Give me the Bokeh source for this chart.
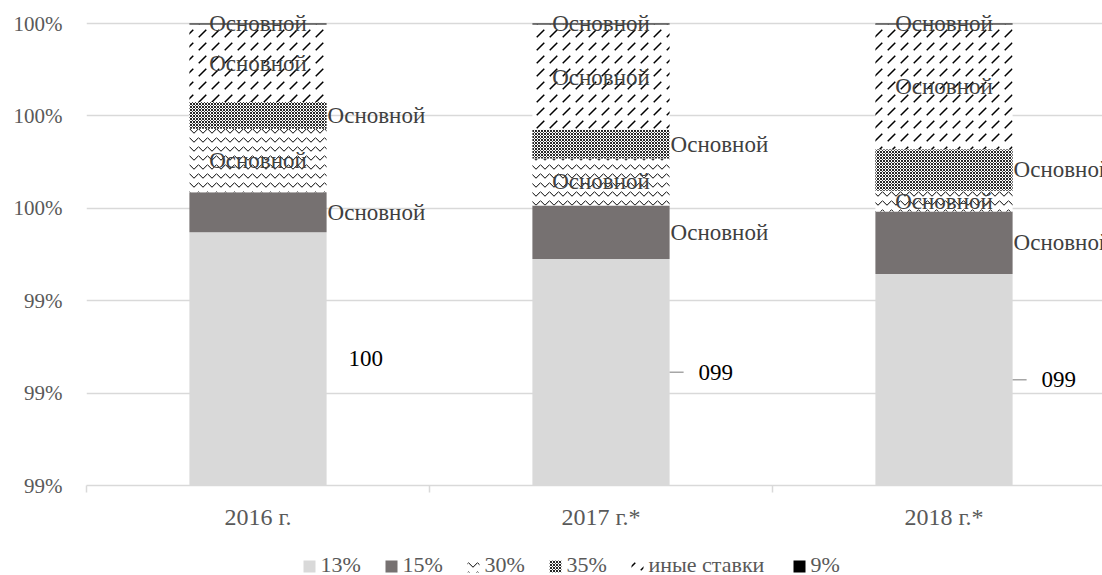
import numpy as np
from bokeh.plotting import figure
from bokeh.layouts import column
from bokeh.models import (Range1d, FixedTicker, PrintfTickFormatter, ColumnDataSource)
from bokeh.core.properties import value
from bokeh.embed import file_html
from bokeh.resources import INLINE

# ---------------- data ----------------
categories = ["2016 г.", "2017 г.*", "2018 г.*"]
rate_13 = [99.548, 99.490, 99.458]
rate_15 = [0.087, 0.116, 0.135]
rate_30 = [0.137, 0.102, 0.045]
rate_35 = [0.058, 0.062, 0.090]
rate_other = [0.168, 0.228, 0.270]
rate_9 = [0.002, 0.002, 0.002]
series_names = ["13%", "15%", "30%", "35%", "иные ставки", "9%"]
labels_13 = ["100", "099", "099"]
segment_label = "Основной"
y_ticks = [99.0, 99.2, 99.4, 99.6, 99.8, 100.0]

# ---------------- styles ----------------
FONT = "Liberation Serif"
FS = "23px"
PX_PER_CAT = 343
FRAME_LEFT = 86
FRAME_W = 1016
FRAME_H = 471
PX_PER_UNIT = 462
BAR_W = 0.4
MAIN_BOTTOM = 48
LEG_H = 42
PAGE_W = FRAME_LEFT + FRAME_W

series_values = [rate_13, rate_15, rate_30, rate_35, rate_other, rate_9]
styles = [
    dict(fill_color="#d9d9d9"),
    dict(fill_color="#767171"),
    dict(fill_color="white", hatch_pattern="horizontal_wave", hatch_color="black",
         hatch_scale=9, hatch_weight=1),
    dict(fill_color="white", hatch_pattern="diagonal_cross", hatch_color="black",
         hatch_scale=3, hatch_weight=1, hatch_alpha=0.85),
    dict(fill_color="white", hatch_pattern="right_diagonal_dash", hatch_color="black",
         hatch_scale=13, hatch_weight=1.5),
    dict(fill_color="black"),
]
# where the "Основной" label sits: "center" inside or "right" outside the bar
label_mode = [None, "right", "center", "right", "center", "center"]

xs = np.arange(len(categories)) + 0.5
y_start = y_ticks[0]
y_end = y_start + FRAME_H / PX_PER_UNIT

p = figure(frame_width=FRAME_W, frame_height=FRAME_H,
           x_range=Range1d(0, FRAME_W / PX_PER_CAT), y_range=Range1d(y_start, y_end),
           output_backend="svg", toolbar_location=None,
           min_border_left=FRAME_LEFT, min_border_right=0, min_border_top=14,
           min_border_bottom=MAIN_BOTTOM)
p.outline_line_color = None
p.background_fill_color = "white"
p.border_fill_color = "white"

bottoms = np.zeros(len(categories))
for vals, st, mode in zip(series_values, styles, label_mode):
    vals = np.array(vals)
    tops = bottoms + vals
    src = ColumnDataSource(dict(x=xs, bottom=bottoms.copy(), top=tops))
    p.vbar(x="x", bottom="bottom", top="top", width=BAR_W, source=src,
           line_color=None, **st)
    if mode is not None:
        mid = (bottoms + tops) / 2
        if mode == "center":
            p.text(x=xs, y=mid, text=[segment_label] * len(xs), text_align="center",
                   text_baseline="middle", text_font=value(FONT), text_font_size=FS,
                   text_color="#404040")
        else:
            p.text(x=xs + BAR_W / 2, y=mid, text=[segment_label] * len(xs),
                   text_align="left", text_baseline="middle", x_offset=1,
                   text_font=value(FONT), text_font_size=FS, text_color="#404040")
    bottoms = tops

# 13% value labels: outside right, at the middle of the visible part
v13 = np.array(rate_13)
lab_y = (y_start + v13) / 2
offsets = [22, 29, 29]
for i in range(len(xs)):
    p.text(x=[xs[i] + BAR_W / 2], y=[lab_y[i]], text=[labels_13[i]], x_offset=offsets[i],
           text_align="left", text_baseline="middle", text_font=value(FONT),
           text_font_size=FS, text_color="black")
lead_x0 = xs[1:] + BAR_W / 2
p.segment(x0=lead_x0, x1=lead_x0 + 14 / PX_PER_CAT, y0=lab_y[1:], y1=lab_y[1:],
          line_color="#a6a6a6", line_width=1.5)

# axes
p.xgrid.grid_line_color = None
p.ygrid.grid_line_color = "#d9d9d9"
p.ygrid.grid_line_width = 1.5
p.ygrid.ticker = FixedTicker(ticks=y_ticks)

p.yaxis.ticker = FixedTicker(ticks=y_ticks)
p.yaxis.formatter = PrintfTickFormatter(format="%.0f%%")
p.yaxis.axis_line_color = None
p.yaxis.major_tick_line_color = None
p.yaxis.minor_tick_line_color = None
p.yaxis.major_tick_in = 0
p.yaxis.major_tick_out = 0
p.yaxis.minor_tick_in = 0
p.yaxis.minor_tick_out = 0
p.yaxis.major_label_standoff = 24
p.yaxis.major_label_text_font = FONT
p.yaxis.major_label_text_font_size = "21px"
p.yaxis.major_label_text_color = "#595959"

p.xaxis.ticker = FixedTicker(ticks=list(xs), minor_ticks=list(range(len(categories) + 1)))
p.xaxis.major_label_overrides = {float(x): c for x, c in zip(xs, categories)}
p.xaxis.axis_line_color = "#d9d9d9"
p.xaxis.axis_line_width = 1.5
p.xaxis.major_tick_line_color = None
p.xaxis.minor_tick_line_color = "#d9d9d9"
p.xaxis.minor_tick_line_width = 1.5
p.xaxis.minor_tick_in = 0
p.xaxis.minor_tick_out = 7
p.xaxis.major_tick_in = 0
p.xaxis.major_tick_out = 7
p.xaxis.major_label_standoff = 11
p.xaxis.major_label_text_font = FONT
p.xaxis.major_label_text_font_size = "24px"
p.xaxis.major_label_text_color = "#595959"

# ---------------- legend strip (own figure, x/y in page pixels) ----------------
leg = figure(frame_width=FRAME_W, frame_height=LEG_H,
             x_range=Range1d(FRAME_LEFT, PAGE_W), y_range=Range1d(0, LEG_H),
             output_backend="svg", toolbar_location=None,
             min_border_left=FRAME_LEFT, min_border_right=0, min_border_top=0,
             min_border_bottom=0)
leg.axis.visible = False
leg.grid.visible = False
leg.outline_line_color = None
leg.background_fill_color = "white"
leg.border_fill_color = "white"

LEG_START = 303
ICON = 12
ICON_Y = 9
TEXT_Y = 11.5
ix = LEG_START
for name, st in zip(series_names, styles):
    leg.rect(x=[ix + ICON / 2], y=[ICON_Y], width=ICON, height=ICON,
             width_units="screen", height_units="screen", line_color=None, **st)
    leg.text(x=[ix + ICON + 5], y=[TEXT_Y], text=[name], text_baseline="middle",
             text_align="left", text_font=value(FONT), text_font_size="22px",
             text_color="#595959")
    ix += 52 + 10 * len(name)

layout = column(p, leg, spacing=0)
open("out.html", "w").write(file_html(layout, INLINE))
